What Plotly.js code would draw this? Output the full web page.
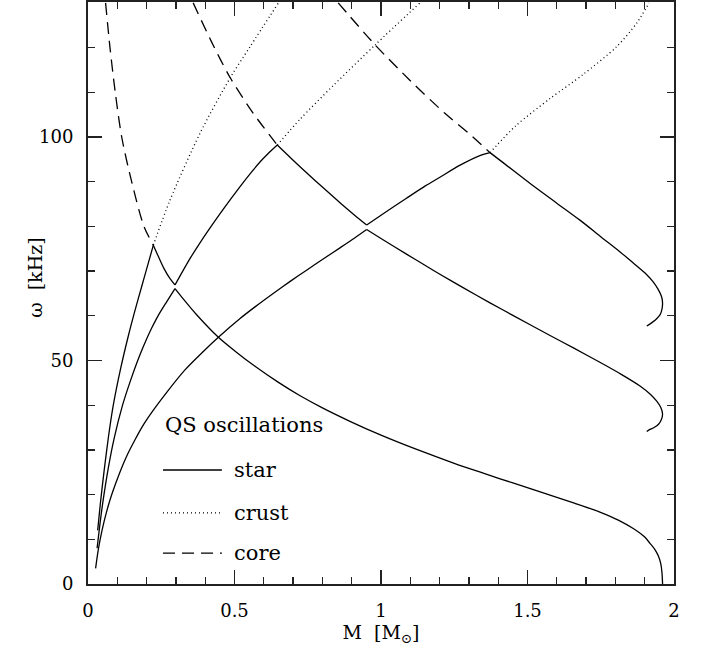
<!DOCTYPE html>
<html>
<head>
<meta charset="utf-8">
<script src="https://cdn.plot.ly/plotly-3.0.1.min.js"></script>
<style>html,body{margin:0;padding:0;background:#fff;}#chart{width:702px;height:652px;}</style>
</head>
<body>
<div id="chart"></div>
<script>
// ---- star modes (solid) ----
const starUpperM = [0.033,0.042,0.055,0.070,0.086,0.110,0.138,0.160,0.183,0.205,0.223,
  0.240,0.260,0.280,0.297,
  0.320,0.350,0.380,0.416,0.460,0.519,0.560,0.587,0.615,0.646,
  0.700,0.746,0.800,0.860,0.910,0.951,
  1.000,1.087,1.150,1.201,1.270,1.344,1.372,
  1.420,1.509,1.600,1.679,1.750,1.816,1.861,1.907,1.929,1.946,1.958,1.961,1.957,1.952,1.940,1.929,1.907];
const starUpperW = [12,17.9,25.3,33.0,39.9,47.8,55.6,61.1,66.5,71.6,75.8,
  73.3,70.5,68.3,66.9,
  69.6,73.0,76.1,79.6,83.7,88.9,92.3,94.4,96.3,98.2,
  94.8,92.0,88.8,85.3,82.5,80.3,
  82.5,86.3,89.0,91.0,93.7,96.0,96.5,
  94.1,89.6,85.2,81.4,77.7,74.3,71.8,69.2,67.6,65.9,64.2,62.6,61.0,60.2,59.3,58.7,57.7];

const starLowerM = [0.031,0.040,0.050,0.070,0.090,0.117,0.145,0.175,0.200,0.217,0.240,0.270,0.297,
  0.330,0.370,0.445,0.500,0.570,0.650,0.724,0.800,0.894,1.000,1.122,1.250,1.349,1.450,1.577,1.660,1.747,1.810,1.861,1.900,1.918,1.935,1.947,1.955,1.959,1.961];
const starLowerW = [8,13.0,18.0,26.2,32.8,39.8,45.5,50.9,54.8,57.2,60.1,63.3,66.1,
  63.4,60.3,55.2,52.2,48.7,45.1,42.1,39.4,36.4,33.3,30.1,27.0,24.8,22.6,19.9,18.1,16.1,14.3,12.4,10.5,9.1,7.7,6.2,4.5,2.5,0];

const starMiddleM = [0.026,0.033,0.041,0.055,0.075,0.103,0.130,0.160,0.190,0.223,0.270,0.331,0.390,0.445,0.519,0.570,0.632,0.690,0.746,0.800,0.860,0.910,0.951,
  1.000,1.087,1.150,1.201,1.280,1.372,1.450,1.577,1.660,1.747,1.820,1.884,1.920,1.941,1.955,1.961,1.957,1.948,1.932,1.918,1.907];
const starMiddleW = [3.5,6.8,9.8,14.0,18.8,24.0,28.3,32.2,35.7,38.9,43.0,47.9,51.8,55.2,59.4,62.0,65.0,67.7,70.2,72.6,75.2,77.4,79.3,
  77.3,73.8,71.3,69.3,66.3,62.9,60.1,55.6,52.7,49.6,46.9,44.3,42.4,40.9,39.5,38.0,36.8,35.8,35.0,34.6,34.1];

// ---- core modes (dashed) ----
const core1M = [0.060,0.075,0.093,0.115,0.149,0.191,0.223];
const core1W = [130,120,110,100,90,80,75.8];
const core2M = [0.359,0.420,0.485,0.564,0.646];
const core2W = [130,121.5,113.3,105.3,98.2];
const core3M = [0.854,0.980,1.100,1.218,1.300,1.372];
const core3W = [130,120.6,112.6,105.3,100.8,96.5];

// ---- crust modes (dotted) ----
const crust1M = [0.223,0.280,0.382,0.485,0.553,0.650];
const crust1W = [75.8,85.9,100.8,113.2,120.2,130];
const crust2M = [0.646,0.724,0.837,0.980,1.133];
const crust2W = [98.2,104.0,111.5,120.6,130];
const crust3M = [1.372,1.460,1.577,1.690,1.804,1.873,1.915];
const crust3W = [96.5,102.5,108.6,114.0,120.2,125.5,130];

// ---- labels ----
const xTitle = 'M  [M<sub>⊙</sub>]';
const yTitle = 'ω  [kHz]';
const legendTitle = 'QS oscillations';
const legendLabels = ['star', 'crust', 'core'];

const FONT = 'DejaVu Serif, Liberation Serif, serif';
const lineW = 1.3;
const dotted = '1px,3px';
const dashed = '12px,7px';

function tr(x, y, dash) {
  return {x: x, y: y, type: 'scatter', mode: 'lines', showlegend: false, hoverinfo: 'skip',
          line: {color: '#000', width: lineW, dash: dash, shape: 'spline', smoothing: 0.8}};
}
// split a curve at its local extrema in y so that sharp peaks stay sharp while each branch is smooth
function branches(x, y) {
  const out = [];
  let start = 0;
  for (let i = 1; i < y.length - 1; i++) {
    const d1 = y[i] - y[i - 1], d2 = y[i + 1] - y[i];
    if (d1 * d2 < 0) { out.push([x.slice(start, i + 1), y.slice(start, i + 1)]); start = i; }
  }
  out.push([x.slice(start), y.slice(start)]);
  return out;
}
const data = [];
[[starUpperM, starUpperW], [starLowerM, starLowerW], [starMiddleM, starMiddleW]].forEach(c => {
  branches(c[0], c[1]).forEach(b => data.push(tr(b[0], b[1], 'solid')));
});
[[core1M, core1W], [core2M, core2W], [core3M, core3W]].forEach(c => data.push(tr(c[0], c[1], dashed)));
[[crust1M, crust1W], [crust2M, crust2W], [crust3M, crust3W]].forEach(c => data.push(tr(c[0], c[1], dotted)));

const axisCommon = {
  showgrid: false, zeroline: false, showline: true, mirror: 'allticks',
  linecolor: '#222', linewidth: 2, ticks: 'inside', ticklen: 14, tickwidth: 1.4, tickcolor: '#222',
  tickfont: {family: FONT, size: 18, color: '#000'}, ticklabelstandoff: 9
};

const legX0 = 0.256, legX1 = 0.457, legTextX = 0.493;
const legY = [25.5, 15.9, 6.9];
const legDash = ['solid', dotted, dashed];
const shapes = legY.map((y, i) => ({type: 'line', xref: 'x', yref: 'y', x0: legX0, x1: legX1, y0: y, y1: y,
  line: {color: '#000', width: lineW, dash: legDash[i]}}));
const annotations = legY.map((y, i) => ({xref: 'x', yref: 'y', x: legTextX, y: y, xanchor: 'left', yanchor: 'middle',
  text: legendLabels[i], showarrow: false, font: {family: FONT, size: 21, color: '#000'}}));
annotations.push({xref: 'x', yref: 'y', x: legX0, y: 35.6, xanchor: 'left', yanchor: 'middle',
  text: legendTitle, showarrow: false, font: {family: FONT, size: 21, color: '#000'}});
annotations.push({xref: 'paper', yref: 'paper', x: 0, y: 0.526, xshift: -53, xanchor: 'center', yanchor: 'middle',
  textangle: -90, text: yTitle, showarrow: false, font: {family: FONT, size: 19, color: '#000'}});

const layout = {
  width: 702, height: 652,
  margin: {l: 88, r: 28, t: 2, b: 68},
  paper_bgcolor: '#fff', plot_bgcolor: '#fff',
  showlegend: false,
  xaxis: Object.assign({}, axisCommon, {range: [0, 2], dtick: 0.5, tick0: 0,
    minor: {ticks: 'inside', ticklen: 7, dtick: 0.1, tickwidth: 1.4, tickcolor: '#222'},
    title: {text: xTitle, standoff: 6, font: {family: FONT, size: 19, color: '#000'}}}),
  yaxis: Object.assign({}, axisCommon, {range: [0, 130.2], dtick: 50, tick0: 0,
    minor: {ticks: 'inside', ticklen: 7, dtick: 10, tickwidth: 1.4, tickcolor: '#222'}}),
  shapes: shapes,
  annotations: annotations
};

Plotly.newPlot('chart', data, layout, {staticPlot: true, displayModeBar: false});
</script>
</body>
</html>
